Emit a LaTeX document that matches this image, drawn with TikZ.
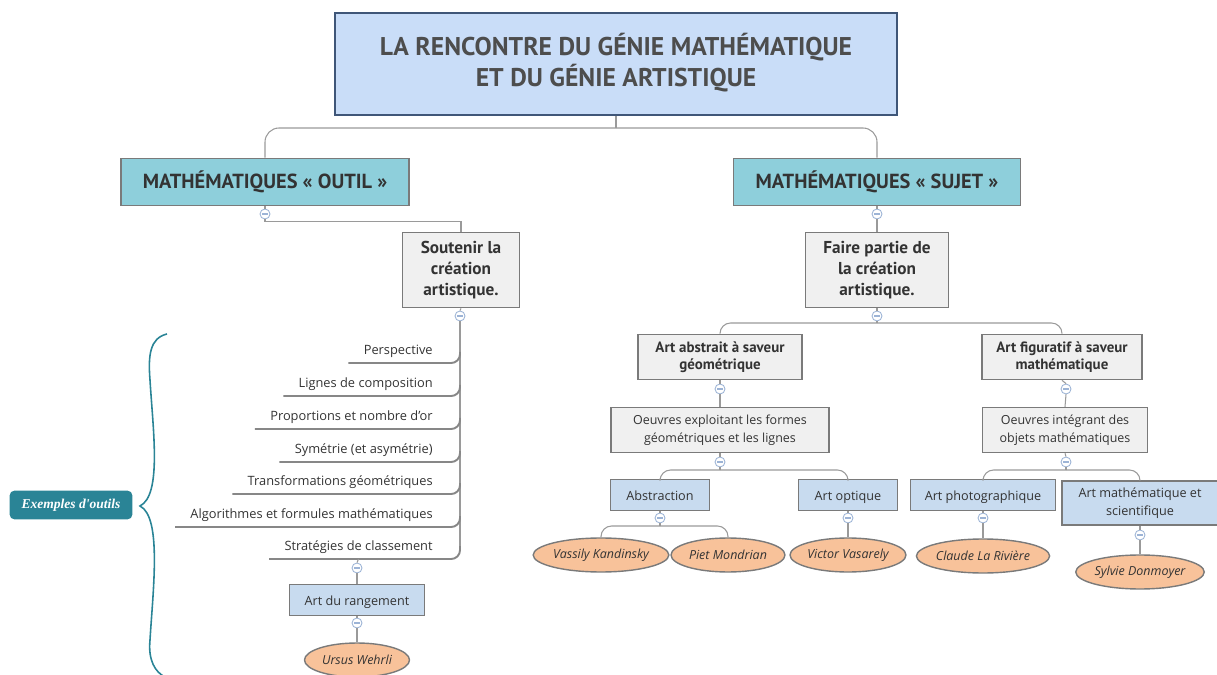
\documentclass[tikz,border=0pt]{standalone}
\usepackage{fontspec}
\setmainfont{Open Sans}
\newfontfamily\headfont{PT Sans}
\newfontfamily\tagfont{Liberation Serif}
\usepackage{xcolor}
\usepackage{tikz}
\usetikzlibrary{shapes.geometric, positioning, calc}

\definecolor{titlefill}{HTML}{C9DDF8}
\definecolor{titledraw}{HTML}{3F5678}
\definecolor{mainfill}{HTML}{8ECFDB}
\definecolor{boxdraw}{HTML}{7A7A7A}
\definecolor{grayfill}{HTML}{F0F0F0}
\definecolor{leaffill}{HTML}{C8DBEF}
\definecolor{artfill}{HTML}{F8C29A}
\definecolor{linegray}{HTML}{9A9A9A}
\definecolor{circdraw}{HTML}{9DB4D6}
\definecolor{tealdark}{HTML}{2A8496}
\definecolor{txt}{HTML}{333333}
\definecolor{titletxt}{HTML}{4D4D4D}

\begin{document}
\begin{tikzpicture}[x=0.02cm, y=-0.02cm,
    titlebox/.style={draw=titledraw, line width=1pt, fill=titlefill, minimum width=11.24cm, minimum height=2.04cm, align=center, text=titletxt, font=\headfont\bfseries\fontsize{14.6}{17}\selectfont},
    mainbox/.style={draw=boxdraw, line width=1pt, fill=mainfill, minimum height=0.94cm, align=center, text=txt, font=\headfont\bfseries\fontsize{11.6}{13}\selectfont},
    subbox/.style={draw=boxdraw, line width=1pt, fill=grayfill, minimum height=1.5cm, align=center, text=txt, font=\headfont\bfseries\fontsize{9.8}{11.9}\selectfont},
    themebox/.style={draw=boxdraw, line width=1pt, fill=grayfill, minimum height=0.9cm, align=center, text=txt, font=\headfont\bfseries\fontsize{8.5}{10}\selectfont},
    workbox/.style={draw=boxdraw, line width=0.8pt, fill=grayfill, minimum height=0.9cm, align=center, text=txt, font=\fontsize{7.1}{10}\selectfont},
    leafbox/.style={draw=boxdraw, line width=0.8pt, fill=leaffill, minimum height=0.56cm, align=center, text height=1.6ex, text depth=0.5ex, text=txt, font=\fontsize{7.2}{10}\selectfont},
    artist/.style={ellipse, draw=boxdraw, line width=0.8pt, fill=artfill, minimum height=0.68cm, inner sep=0pt, text=txt, font=\itshape\fontsize{7.1}{8}\selectfont},
    item/.style={anchor=south east, inner xsep=0.3cm, inner ysep=0.06cm, text height=1.6ex, text depth=0.11cm, text=txt, font=\fontsize{7.3}{8}\selectfont},
    circ/.style={circle, draw=circdraw, fill=white, line width=0.5pt, minimum size=0.2cm, inner sep=0pt,
        path picture={\draw[circdraw, line width=0.6pt] ([xshift=-1.6pt]path picture bounding box.center) -- ([xshift=1.6pt]path picture bounding box.center);}},
    conn/.style={draw=linegray, line width=0.6pt},
    uline/.style={draw=boxdraw!90, line width=1.1pt, rounded corners=5},
    tag/.style={fill=tealdark, rounded corners=3pt, minimum width=2.46cm, minimum height=0.58cm, text=white, font=\tagfont\bfseries\itshape\fontsize{7.7}{10}\selectfont},
]
\useasboundingbox (0,0) rectangle (1217,675);

\node[titlebox] (title) at (616,64) {\raisebox{-3pt}{\begin{tabular}{@{}c@{}}LA RENCONTRE DU GÉNIE MATHÉMATIQUE\\ET DU GÉNIE ARTISTIQUE\end{tabular}}};
\node[mainbox, minimum width=5.76cm] (outil) at (265,182) {MATHÉMATIQUES « OUTIL »};
\node[mainbox, minimum width=5.74cm] (sujet) at (877,182) {MATHÉMATIQUES « SUJET »};
\coordinate (t1) at (616,128);

\node[circ] (c1) at (265,214) {};
\node[subbox, minimum width=2.34cm] (soutenir) at (461,270) {Soutenir la\\création\\artistique.};
\node[circ] (c2) at (460,316) {};

\node[item] (persp) at (448,363) {Perspective};
\node[item] (lignes) at (448,396) {Lignes de composition};
\node[item] (propor) at (448,429) {Proportions et nombre d'or};
\node[item] (symet) at (448,462) {Symétrie (et asymétrie)};
\node[item] (transf) at (448,494) {Transformations géométriques};
\node[item] (algo) at (448,527) {Algorithmes et formules mathématiques};
\node[item] (strat) at (448,559) {Stratégies de classement};

\node[circ] (c3) at (357,568) {};
\node[leafbox, minimum width=2.7cm] (rangement) at (357,600) {Art du rangement};
\node[circ] (c4) at (357,623) {};
\node[artist, minimum width=2.1cm] (ursus) at (357,660) {Ursus Wehrli};

\node[tag] (exemples) at (71,505) {Exemples d'outils};
\draw[tealdark, line width=0.9pt] (167,334) .. controls (150,338) and (148,355) .. (150,380)
    .. controls (153,430) and (162,495) .. (140,506)
    .. controls (162,517) and (153,590) .. (150,640)
    .. controls (148,660) and (155,672) .. (165,677);

\node[circ] (c5) at (877,214) {};
\node[subbox, minimum width=2.86cm] (faire) at (877,270) {Faire partie de\\la création\\artistique.};
\node[circ] (c6) at (877,316) {};
\coordinate (t2) at (877,323);

\node[themebox, minimum width=3.28cm] (abstrait) at (720,357) {Art abstrait à saveur\\géométrique};
\node[themebox, minimum width=3.2cm] (figuratif) at (1062,357) {Art figuratif à saveur\\mathématique};
\node[circ] (c7) at (720,389) {};
\node[circ] (c8) at (1066,389) {};
\node[workbox, minimum width=4.36cm] (oeuvres1) at (720,430) {Oeuvres exploitant les formes\\géométriques et les lignes};
\node[workbox, minimum width=3.3cm] (oeuvres2) at (1065,430) {Oeuvres intégrant des\\objets mathématiques};
\node[circ] (c9) at (720,462) {};
\node[circ] (c10) at (1066,462) {};
\coordinate (t3) at (720,470);
\coordinate (t4) at (1066,470);

\node[leafbox, minimum width=1.98cm] (abstraction) at (660,495) {Abstraction};
\node[leafbox, minimum width=1.98cm] (optique) at (848,495) {Art optique};
\node[leafbox, minimum width=2.9cm] (photo) at (983,495) {Art photographique};
\node[leafbox, text height=, text depth=, minimum width=3.12cm, minimum height=0.88cm] (artmath) at (1140,503) {Art mathématique et\\scientifique};

\node[circ] (c11) at (660,518) {};
\node[circ] (c12) at (848,518) {};
\node[circ] (c13) at (983,518) {};
\node[circ] (c14) at (1140,535) {};
\coordinate (t5) at (660,526);

\node[artist, minimum width=2.6cm] (kandinsky) at (601,555) {Vassily Kandinsky};
\node[artist, minimum width=2.28cm] (mondrian) at (728,555) {Piet Mondrian};
\node[artist, minimum width=2.32cm] (vasarely) at (848,555) {Victor Vasarely};
\node[artist, minimum width=2.64cm] (riviere) at (983,556) {Claude La Rivière};
\node[artist, minimum width=2.56cm] (donmoyer) at (1140,572) {Sylvie Donmoyer};

\draw[conn] (title.south) -- (t1);
\draw[conn, rounded corners=8] (t1) -| (outil.north);
\draw[conn, rounded corners=8] (t1) -| (sujet.north);
\draw[conn] (outil.south) -- (c1.north);
\draw[conn] (c1.south) |- ($(soutenir.north)+(0,-10)$) -- (soutenir.north);
\draw[conn] (soutenir.south) -- (c2.north);
\draw[conn] (c2.south) -- (460,548);
\draw[uline] (persp.south west) -| (460,352);
\draw[uline] (lignes.south west) -| (460,385);
\draw[uline] (propor.south west) -| (460,418);
\draw[uline] (symet.south west) -| (460,451);
\draw[uline] (transf.south west) -| (460,483);
\draw[uline] (algo.south west) -| (460,516);
\draw[uline] (strat.south west) -| (460,546);
\draw[conn] (strat.south) -- (c3.north);
\draw[conn] (c3.south) -- (rangement.north);
\draw[conn] (rangement.south) -- (c4.north);
\draw[conn] (c4.south) -- (ursus.north);

\draw[conn] (sujet.south) -- (c5.north);
\draw[conn] (c5.south) -- (faire.north);
\draw[conn] (faire.south) -- (c6.north);
\draw[conn] (c6.south) -- (t2);
\draw[conn, rounded corners=6] (t2) -| (abstrait.north);
\draw[conn, rounded corners=6] (t2) -| (figuratif.north);
\draw[conn] (abstrait.south) -- (c7.north);
\draw[conn] (c7.south) -- (oeuvres1.north);
\draw[conn] (figuratif.south) -- (c8.north);
\draw[conn] (c8.south) -- (oeuvres2.north);
\draw[conn] (oeuvres1.south) -- (c9.north);
\draw[conn] (c9.south) -- (t3);
\draw[conn, rounded corners=6] (t3) -| (abstraction.north);
\draw[conn, rounded corners=6] (t3) -| (optique.north);
\draw[conn] (oeuvres2.south) -- (c10.north);
\draw[conn] (c10.south) -- (t4);
\draw[conn, rounded corners=6] (t4) -| (photo.north);
\draw[conn, rounded corners=6] (t4) -| (artmath.north);
\draw[conn] (abstraction.south) -- (c11.north);
\draw[conn] (c11.south) -- (t5);
\draw[conn, rounded corners=6] (t5) -| (kandinsky.north);
\draw[conn, rounded corners=6] (t5) -| (mondrian.north);
\draw[conn] (optique.south) -- (c12.north);
\draw[conn] (c12.south) -- (vasarely.north);
\draw[conn] (photo.south) -- (c13.north);
\draw[conn] (c13.south) -- (riviere.north);
\draw[conn] (artmath.south) -- (c14.north);
\draw[conn] (c14.south) -- (donmoyer.north);

\end{tikzpicture}
\end{document}
